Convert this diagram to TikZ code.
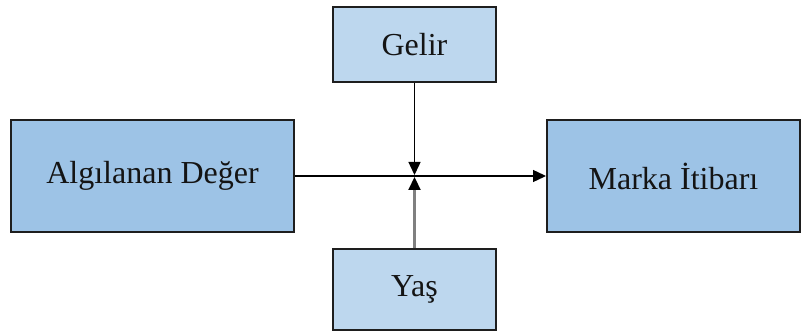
\documentclass[tikz,border=0pt]{standalone}
\usepackage{fontspec}
\setmainfont{Liberation Serif}
\usetikzlibrary{arrows.meta}
\definecolor{lightbox}{HTML}{BDD7EE}
\definecolor{darkbox}{HTML}{9DC3E6}
\definecolor{edge}{HTML}{1E1E1E}
\begin{document}
\begin{tikzpicture}[x=0.5pt,y=-0.5pt,
  boxbase/.style={draw=edge,line width=1pt,inner sep=0pt,text=black!92,
    font=\fontsize{16}{19}\selectfont},
  smallbox/.style={boxbase,fill=lightbox},
  bigbox/.style={boxbase,fill=darkbox},
  conn/.style={line width=0.7pt,draw=black,-{Triangle[length=6.5pt,width=6pt]}},
  grayconn/.style={line width=1.1pt,draw=black!50,-{Triangle[length=6.5pt,width=6pt,fill=black,color=black]}}]
\useasboundingbox (0,0) rectangle (802,331);
\node[smallbox,minimum width=81.5pt,minimum height=37.5pt] (gelir) at (414.5,44.5) {Gelir};
\node[bigbox,minimum width=141.5pt,minimum height=56pt] (alg) at (152.5,176) {Algılanan Değer};
\node[bigbox,minimum width=126.5pt,minimum height=56pt] (marka) at (673.5,176) {Marka İtibarı};
\node[smallbox,minimum width=81.5pt,minimum height=40.5pt] (yas) at (414.5,289.5) {Yaş};
\coordinate (downtip) at (414.5,175);
\coordinate (uptip) at (414.5,177);
\draw[conn] (alg.east) -- (marka.west);
\draw[conn] (gelir.south) -- (downtip);
\draw[grayconn] (yas.north) -- (uptip);
\end{tikzpicture}
\end{document}
